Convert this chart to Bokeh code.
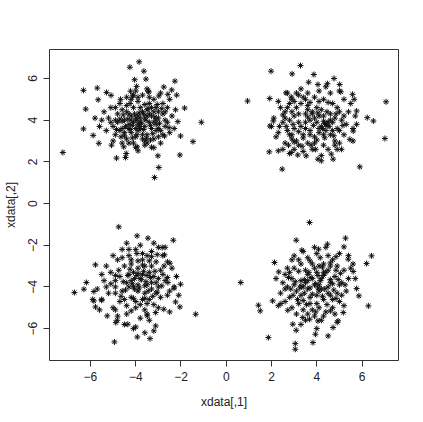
from bokeh.plotting import figure
from bokeh.models import Range1d, FixedTicker
from bokeh.embed import file_html
from bokeh.resources import INLINE

# Cluster points (x, y)
cluster_top_left = [
    (-7.22,2.45),(-6.31,5.43),(-5.70,5.54),(-5.66,4.98),(-6.21,4.53),(-6.31,3.58),(-5.88,3.27),(-5.63,2.89),
    (-5.07,2.80),(-4.85,2.18),(-4.45,2.21),(-4.42,2.40),(-4.26,6.54),(-3.85,6.80),(-3.64,6.35),(-4.05,5.94),
    (-3.55,5.97),(-3.96,5.62),(-4.23,5.39),(-3.45,5.39),(-4.14,5.16),(-5.29,5.33),(-5.09,5.19),(-4.67,5.00),
    (-2.76,5.59),(-2.27,5.87),(-2.41,5.45),(-2.19,5.20),(-1.84,4.58),(-2.24,4.50),(-1.10,3.90),(-2.14,3.93),
    (-2.53,3.64),(-2.02,3.24),(-1.47,2.97),(-2.05,2.33),(-2.73,3.24),(-3.02,2.29),(-2.98,1.73),(-3.17,1.25),
    (-3.20,2.68),(-3.94,2.72),(-3.90,2.53),(-4.53,2.72),(-3.52,3.13),(-3.42,5.35),(-2.98,5.16),(-2.58,5.24),
    (-3.8,3.9),(-4.0,4.1),(-3.6,3.7),(-4.3,3.8),(-3.3,4.2),(-3.9,3.5),(-4.5,4.0),(-3.1,3.8),(-3.7,4.4),
    (-4.2,3.4),(-3.5,3.3),(-4.6,3.6),(-3.0,4.4),(-4.1,4.6),(-3.4,4.8),(-4.8,4.3),(-2.9,3.5),(-4.4,3.1),
    (-3.6,3.0),(-5.0,3.7),(-2.7,4.0),(-3.9,4.9),(-4.7,4.8),(-3.2,3.1),(-4.0,3.2),(-5.2,4.1),(-2.6,4.6),
    (-3.5,4.5),(-4.3,4.3),(-3.8,3.6),(-4.1,3.9),(-3.4,3.9),(-3.0,3.2),(-4.9,3.3),(-5.3,3.5),(-2.5,3.4),
    (-3.7,5.2),(-4.4,5.1),(-3.2,5.0),(-2.8,4.8),(-4.6,4.5),(-5.1,4.6),(-3.3,3.6),(-3.9,4.2),(-4.2,4.0),
    (-3.6,4.1),(-2.4,4.2),(-5.5,4.0),(-4.8,3.9),(-3.1,4.6),(-2.9,2.9),(-3.3,2.7),(-4.6,2.9),(-4.0,2.7),
    (-5.6,3.7),(-2.3,3.6),(-3.8,4.6),(-4.4,4.7),(-3.5,5.5),(-4.0,5.4),(-2.9,5.3),(-5.4,4.4),(-3.0,4.1),
    (-4.5,3.4),(-3.7,3.3),(-3.2,4.4),(-4.3,3.6),(-4.9,4.0),(-2.7,3.7),(-3.6,2.8),(-5.0,3.0),(-4.1,2.9),
    (-2.8,4.3),(-3.4,4.3),(-4.7,3.5),(-5.8,4.1),(-3.9,3.8),(-3.1,3.5),(-4.2,5.0),(-2.5,5.0),
    (-3.75,3.85),(-3.95,4.0),(-4.15,3.75),(-3.55,4.0),(-3.65,3.55),(-4.05,4.3),(-4.35,4.05),(-3.35,3.75),
    (-3.85,4.35),(-4.25,3.55),(-3.45,4.55),(-4.55,4.25),(-3.15,4.15),(-3.95,3.3),(-4.45,3.7),(-3.25,3.35),
    (-4.7,4.05),(-2.95,3.85),(-3.6,4.75),(-4.25,4.8),(-3.05,4.75),(-4.85,3.55),(-3.35,3.05),(-4.15,3.15),
    (-2.85,4.55),(-4.65,3.2),(-3.7,3.1),(-3.2,3.9),(-4.0,3.6),(-4.4,4.4),(-3.5,4.2),(-3.8,4.1),(-3.0,3.6),
    (-4.9,4.6),(-2.6,3.9),(-3.4,5.1),(-4.1,5.2),(-2.7,4.4),(-4.3,2.9),(-3.5,2.9),(-5.1,3.9),(-2.8,3.3),
    (-3.9,5.1),(-4.6,3.95),(-3.3,4.6),(-3.65,4.3),(-4.2,4.2),(-3.1,4.0),(-3.85,3.7),(-4.5,3.25),
]

cluster_top_right = [
    (0.94,4.92),(1.92,5.04),(1.98,6.35),(2.91,6.22),(3.28,6.62),(3.87,6.19),(3.64,5.82),(4.05,5.71),
    (4.47,5.75),(4.76,6.00),(5.01,5.71),(5.58,5.24),(5.06,5.36),(7.06,4.88),(6.23,4.12),(6.50,3.96),
    (7.01,3.12),(5.90,1.76),(2.47,1.65),(1.90,2.48),(2.30,2.53),(1.93,3.72),(2.08,3.96),(2.64,5.31),
    (2.87,5.11),(2.87,2.45),(3.16,2.33),(3.53,2.29),(4.05,2.13),(4.20,2.05),(4.72,2.13),(4.64,2.37),
    (5.09,2.60),(5.46,3.08),(5.61,3.48),(5.76,3.80),(5.76,4.44),(5.65,5.00),
    (4.4,3.8),(4.5,3.9),(4.2,3.7),(3.9,4.1),(3.5,4.3),(3.1,4.6),(2.8,4.8),(2.6,4.4),(2.5,3.9),(2.7,3.5),
    (2.9,3.1),(3.2,2.8),(3.6,2.9),(3.9,3.2),(4.1,3.4),(4.6,3.3),(4.9,3.6),(5.1,4.0),(5.0,4.4),(4.7,4.8),
    (4.3,5.0),(3.9,5.1),(3.5,5.0),(3.2,5.2),(3.0,4.2),(3.3,3.7),(3.7,3.5),(3.4,3.3),(3.0,3.6),(2.3,3.4),
    (2.4,4.6),(2.9,5.0),(3.6,4.7),(4.0,4.6),(4.6,4.3),(4.8,4.1),(5.3,3.8),(5.4,4.4),(5.2,3.3),(4.8,3.0),
    (4.3,2.8),(3.8,2.6),(3.4,2.5),(3.0,2.6),(2.6,2.9),(2.2,3.2),(2.1,4.1),(2.3,4.9),(2.7,5.3),(3.3,5.5),
    (4.1,5.4),(4.6,5.3),(5.2,5.0),(5.5,4.8),(5.7,4.2),(5.6,3.6),(4.0,3.9),(4.3,4.2),(3.7,4.0),(3.2,3.9),
    (2.8,4.0),(4.7,3.5),(4.4,3.5),(4.2,4.5),(3.8,4.4),(3.5,3.9),(2.9,3.3),(3.1,3.0),(3.9,2.9),(4.5,2.6),
    (4.9,2.6),(5.0,2.9),(2.5,2.6),(2.8,2.4),(4.2,2.3),(5.6,3.0),(2.0,3.7),(3.6,5.3),(4.4,5.6),(5.0,5.4),
    (4.35,3.85),(4.45,3.75),(4.3,3.95),(4.55,3.7),(4.25,3.6),(4.6,4.0),(4.1,4.2),(3.8,4.3),(3.6,4.5),
    (3.3,4.8),(3.0,4.9),(2.7,4.6),(2.6,4.1),(2.65,3.7),(2.8,3.3),(3.0,2.95),(3.35,2.75),(3.75,2.8),
    (4.0,3.05),(4.35,3.15),(4.75,3.25),(5.0,3.5),(5.15,3.75),(5.2,4.2),(4.9,4.6),(4.5,4.85),(4.1,4.9),
    (3.7,4.85),(3.4,5.1),(3.1,5.3),(2.9,4.4),(2.5,4.25),(2.35,3.7),(3.2,3.45),(3.5,3.6),(3.85,3.75),
    (4.1,3.6),(4.7,3.9),(4.85,4.3),(4.45,4.4),(4.05,4.35),(3.6,4.15),(3.2,4.3),(2.95,3.8),(3.4,3.15),
    (3.7,3.3),(4.3,3.3),(4.8,2.8),(3.95,2.6),(2.75,2.8),
]

cluster_bottom_left = [
    (-4.75,-1.12),(-3.94,-1.55),(-3.46,-1.66),(-2.34,-1.76),(-2.83,-2.11),(-5.78,-2.94),(-6.18,-3.79),
    (-6.71,-4.27),(-6.29,-4.11),(-5.85,-4.22),(-5.85,-4.67),(-5.78,-4.96),(-5.51,-4.64),(-5.26,-5.39),
    (-4.82,-5.60),(-4.88,-5.71),(-4.94,-6.64),(-4.35,-5.79),(-4.00,-5.92),(-3.93,-6.40),(-3.37,-6.48),
    (-3.20,-6.11),(-3.12,-5.87),(-3.49,-5.39),(-3.12,-5.23),(-2.76,-5.07),(-2.24,-4.72),(-2.05,-4.96),
    (-1.35,-5.31),(-2.02,-3.87),(-2.31,-4.06),(-2.58,-3.79),(-2.49,-2.86),(-2.73,-2.46),
    (-3.8,-3.6),(-3.5,-3.9),(-4.1,-3.3),(-3.2,-3.5),(-4.4,-3.8),(-3.9,-4.2),(-3.6,-3.0),(-4.7,-3.5),
    (-3.0,-4.0),(-4.2,-4.5),(-3.4,-4.6),(-4.9,-4.0),(-2.9,-3.2),(-4.5,-3.0),(-3.7,-2.7),(-3.1,-2.8),
    (-4.3,-2.5),(-5.1,-3.3),(-2.7,-3.7),(-4.0,-5.0),(-3.6,-5.1),(-4.7,-4.7),(-5.2,-4.3),(-2.6,-4.4),
    (-3.3,-2.3),(-4.0,-2.2),(-4.8,-2.7),(-3.9,-3.9),(-3.4,-3.3),(-4.2,-3.7),(-3.6,-4.3),(-5.4,-3.7),
    (-2.4,-3.1),(-3.0,-5.0),(-4.4,-5.3),(-3.8,-5.5),(-5.0,-5.0),(-2.8,-2.5),(-4.6,-2.2),(-5.5,-4.6),
    (-2.3,-4.0),(-3.3,-4.1),(-4.1,-4.0),(-3.7,-3.4),(-4.6,-4.2),(-3.1,-3.8),(-2.9,-4.5),(-4.9,-3.7),
    (-5.3,-3.0),(-3.5,-2.5),(-4.2,-2.9),(-3.0,-2.1),(-2.6,-2.8),(-4.5,-5.8),(-3.4,-5.6),(-5.7,-4.1),
    (-2.2,-3.5),(-3.8,-2.0),(-4.4,-1.9),(-3.2,-1.9),(-4.0,-4.7),(-3.5,-4.8),(-4.8,-5.4),(-5.6,-5.1),
    (-2.5,-5.2),(-3.9,-3.1),(-4.3,-3.4),(-3.3,-3.0),(-2.8,-3.4),(-5.0,-2.5),(-4.1,-6.0),(-3.6,-6.2),
    (-5.9,-4.6),(-2.7,-2.1),(-5.5,-3.4),(-4.9,-5.1),(-2.1,-4.4),(-4.5,-4.6),(-3.7,-4.6),(-3.1,-4.3),
    (-3.75,-3.65),(-3.95,-3.45),(-3.55,-3.75),(-4.15,-3.85),(-3.65,-3.25),(-4.05,-4.1),(-3.35,-3.55),
    (-4.35,-3.45),(-3.85,-4.05),(-3.45,-4.2),(-4.25,-3.15),(-3.15,-3.25),(-4.55,-3.75),(-3.0,-3.6),
    (-3.7,-2.95),(-4.45,-4.15),(-3.25,-4.45),(-4.75,-3.2),(-3.9,-2.75),(-3.4,-2.75),(-4.2,-2.7),
    (-2.85,-3.95),(-4.1,-4.55),(-3.6,-4.55),(-4.65,-4.45),(-3.05,-4.25),(-4.9,-3.45),(-2.75,-3.0),
    (-3.5,-5.3),(-4.2,-5.15),(-3.3,-2.55),(-4.6,-2.6),(-3.8,-4.85),(-4.9,-4.3),(-2.6,-3.55),(-3.95,-2.4),
    (-3.2,-4.85),(-4.4,-4.9),(-5.1,-3.85),(-2.5,-4.2),(-3.7,-2.4),(-4.3,-2.2),(-3.05,-2.45),(-5.3,-4.0),
    (-4.05,-3.6),(-3.6,-3.95),(-3.3,-3.8),(-4.3,-4.0),(-3.9,-3.35),(-3.5,-3.45),
]

cluster_bottom_right = [
    (0.64,-3.79),(3.68,-0.91),(3.09,-1.76),(3.34,-2.24),(5.27,-1.66),(5.20,-2.08),(4.47,-1.95),(4.08,-2.19),
    (6.42,-2.51),(6.20,-2.88),(5.39,-2.67),(2.13,-2.83),(3.00,-2.51),(2.32,-3.28),(5.61,-3.26),(5.76,-4.08),
    (5.86,-4.43),(6.28,-4.91),(1.42,-4.88),(1.50,-5.15),(2.05,-4.67),(2.42,-4.80),(2.72,-5.12),(2.94,-5.79),
    (3.09,-6.08),(1.86,-6.43),(3.05,-6.72),(3.05,-6.99),(3.83,-6.67),(3.94,-6.27),(4.50,-6.35),(4.72,-5.95),
    (4.94,-5.63),(5.17,-5.23),(3.38,-5.47),(3.68,-5.55),(4.05,-5.63),
    (3.9,-3.9),(4.2,-3.6),(3.6,-4.1),(4.5,-4.0),(3.3,-3.7),(4.0,-3.3),(3.7,-4.5),(4.8,-3.5),(3.1,-4.2),
    (4.3,-4.6),(3.5,-3.2),(4.9,-4.3),(2.9,-3.6),(4.1,-5.0),(3.8,-2.9),(4.6,-3.0),(3.2,-4.8),(5.1,-3.8),
    (2.7,-4.0),(4.4,-5.2),(3.4,-5.1),(5.2,-3.2),(3.0,-3.1),(4.7,-2.7),(3.6,-2.6),(4.0,-2.4),(2.6,-3.4),
    (5.0,-4.7),(3.9,-5.4),(2.8,-4.5),(4.6,-4.4),(4.2,-4.1),(3.8,-3.6),(3.4,-4.0),(4.4,-3.3),(3.0,-3.9),
    (4.9,-3.0),(5.4,-3.6),(2.5,-3.8),(2.4,-4.3),(3.5,-5.6),(4.2,-5.6),(4.7,-5.0),(5.3,-4.2),(5.5,-3.1),
    (4.5,-2.5),(3.2,-2.7),(2.7,-3.1),(4.8,-5.3),(3.6,-3.4),(4.1,-3.9),(3.3,-4.4),(4.3,-2.9),(5.0,-2.4),
    (5.6,-2.9),(2.2,-3.6),(2.9,-5.0),(3.7,-4.8),(4.0,-4.4),(4.6,-3.8),(3.1,-5.3),(5.2,-4.9),(2.3,-4.9),
    (3.9,-2.1),(4.4,-2.1),(3.4,-2.3),(2.9,-2.7),(5.7,-3.6),(4.0,-6.0),(3.3,-5.8),(5.4,-2.5),(2.6,-4.7),
    (4.9,-5.7),(4.1,-3.0),(3.5,-3.8),(4.7,-4.6),(3.8,-5.1),(2.8,-3.3),(5.0,-3.9),(4.3,-3.3),
    (3.95,-3.85),(4.15,-3.7),(3.7,-4.05),(4.35,-4.1),(3.45,-3.65),(4.05,-3.45),(3.8,-4.35),(4.6,-3.65),
    (3.25,-4.05),(4.25,-4.45),(3.65,-3.3),(4.75,-4.15),(3.05,-3.75),(4.0,-4.8),(3.9,-3.1),(4.5,-3.2),
    (3.4,-4.65),(4.95,-3.65),(2.85,-4.1),(4.45,-4.85),(3.55,-4.85),(5.05,-3.35),(3.2,-3.25),(4.6,-2.85),
    (3.7,-2.75),(4.15,-2.6),(2.75,-3.55),(4.85,-4.55),(3.95,-5.2),(2.95,-4.4),(4.5,-4.3),(4.1,-4.2),
    (3.6,-3.7),(4.3,-3.45),(3.3,-3.95),(4.85,-3.2),(5.25,-3.9),(2.6,-4.1),(3.6,-5.3),(4.3,-5.4),
    (4.6,-5.15),(5.1,-4.4),(3.3,-2.9),(4.25,-3.05),(3.75,-3.55),(4.05,-4.05),(3.45,-4.3),(4.7,-3.85),
    (3.15,-4.6),(4.85,-2.55),
]

x_ticks = [-6, -4, -2, 0, 2, 4, 6]
y_ticks = [-6, -4, -2, 0, 2, 4, 6]
x_label = "xdata[,1]"
y_label = "xdata[,2]"

all_pts = cluster_top_left + cluster_top_right + cluster_bottom_left + cluster_bottom_right
xs = [p[0] for p in all_pts]
ys = [p[1] for p in all_pts]

FONT = "Liberation Sans"

p = figure(width=415, height=414, output_backend="svg", toolbar_location=None,
           x_range=Range1d(-7.81, 7.61), y_range=Range1d(-7.53, 7.39),
           min_border_left=49, min_border_top=49, min_border_right=17, min_border_bottom=54)
p.background_fill_color = "white"
p.border_fill_color = "white"
p.outline_line_color = "#333333"
p.outline_line_width = 1
p.xgrid.visible = False
p.ygrid.visible = False

p.scatter(xs, ys, marker="asterisk", size=6, line_color="#111111", line_width=1)

for ax in (p.xaxis[0], p.yaxis[0]):
    ax.axis_line_color = None
    ax.major_tick_out = 6
    ax.major_tick_in = 0
    ax.minor_tick_line_color = None
    ax.major_tick_line_color = "#333333"
    ax.major_label_text_font = FONT
    ax.major_label_text_font_size = "12px"
    ax.major_label_text_color = "#222222"
    ax.axis_label_text_font = FONT
    ax.axis_label_text_font_size = "12px"
    ax.axis_label_text_font_style = "normal"
    ax.axis_label_text_color = "#222222"

p.xaxis.ticker = FixedTicker(ticks=x_ticks)
p.yaxis.ticker = FixedTicker(ticks=y_ticks)
p.xaxis.axis_label = x_label
p.yaxis.axis_label = y_label
p.xaxis.major_label_standoff = 5
p.xaxis.axis_label_standoff = 11
p.yaxis.major_label_orientation = "vertical"
p.yaxis.major_label_standoff = 6
p.yaxis.axis_label_standoff = 8

open("out.html", "w").write(file_html(p, INLINE))
